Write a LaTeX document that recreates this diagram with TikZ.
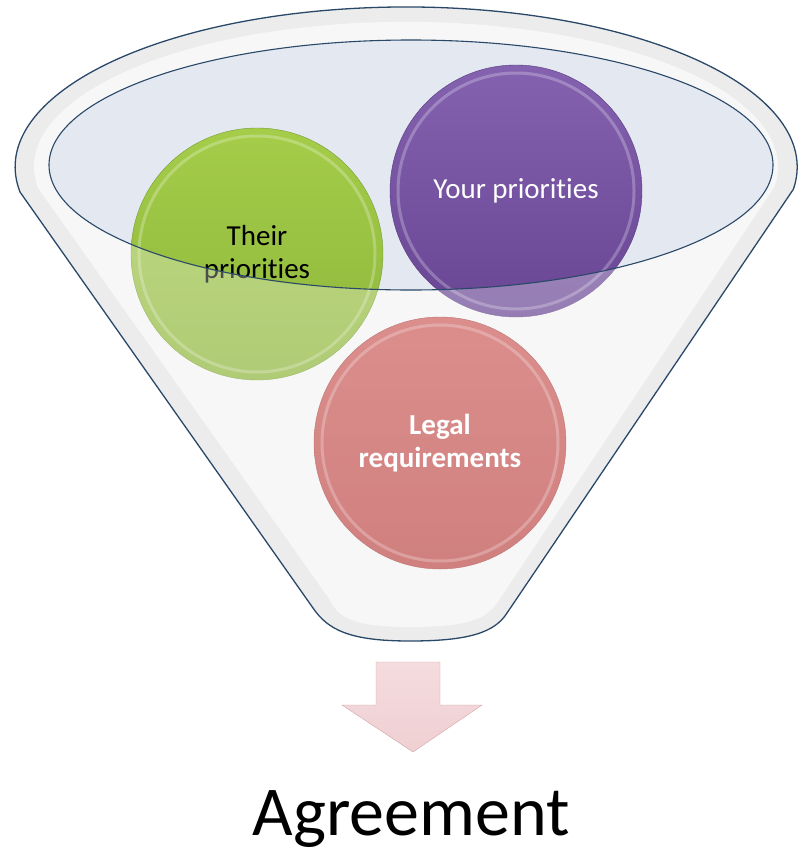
\documentclass[tikz,border=0pt]{standalone}
\usepackage{fontspec}
\setmainfont{Carlito}[Ligatures=NoCommon]
\usetikzlibrary{positioning}

\definecolor{rimline}{HTML}{2A4868}
\definecolor{mouth}{HTML}{E3E8F1}
\definecolor{glass}{HTML}{E4E4E4}
\definecolor{greenA}{HTML}{A5CD4A}
\definecolor{greenB}{HTML}{8DB53A}
\definecolor{purpleA}{HTML}{8462B0}
\definecolor{purpleB}{HTML}{684694}
\definecolor{redA}{HTML}{CC5E5B}
\definecolor{redB}{HTML}{BC4A48}
\definecolor{arrowA}{HTML}{F5DCDF}
\definecolor{arrowB}{HTML}{EFCFD2}
\definecolor{arrowline}{HTML}{D0A6A9}

\tikzset{
  ball/.style={circle, minimum size=252pt, inner sep=0pt, align=center,
    font=\fontsize{29}{33}\selectfont},
  bevel/.style={white, opacity=0.25, line width=3pt},
}

\begin{document}
\begin{tikzpicture}[x=1pt,y=-1pt]
  \useasboundingbox (0,0) rectangle (800,854);

  % Corps de l'entonnoir
  \path[fill=glass] (313,608) -- (20,192)
    arc[start angle=171, end angle=368, x radius=391, y radius=160]
    -- (507,613) .. controls (495,632) and (470,641) .. (410,641)
    .. controls (350,641) and (328,630) .. (313,608) -- cycle;
  \path[fill=white, opacity=0.6] (330,600) -- (38,188)
    arc[start angle=171.6, end angle=368, x radius=372, y radius=145]
    -- (497,603) .. controls (485,620) and (465,627) .. (410,627)
    .. controls (355,627) and (338,618) .. (330,600) -- cycle;

  % Ouverture
  \fill[mouth] (411,165) ellipse[x radius=362, y radius=125];

  % Boules
  \node[ball, top color=greenA, bottom color=greenB, draw=greenB!85!black] (their) at (257,254) {Their\\priorities};
  \node[ball, top color=purpleA, bottom color=purpleB, draw=purpleB!85!black, text=white] (your) at (516,191) {Your priorities};
  \node[ball, top color=redA, bottom color=redB, draw=redB!85!black, text=white, font=\fontsize{29}{33}\selectfont\bfseries] (legal) at (440,443) {Legal\\requirements};
  \draw[bevel] (their) circle[radius=118];
  \draw[bevel] (your) circle[radius=118];
  \draw[bevel] (legal) circle[radius=118];

  % Face avant
  \path[fill=white, opacity=0.3, even odd rule] (313,608) -- (20,192)
    arc[start angle=171, end angle=368, x radius=391, y radius=160]
    -- (507,613) .. controls (495,632) and (470,641) .. (410,641)
    .. controls (350,641) and (328,630) .. (313,608) -- cycle
    (411,165) ellipse[x radius=362, y radius=125];

  % Contours
  \draw[rimline, line width=1.1pt] (411,165) ellipse[x radius=362, y radius=125];
  \draw[rimline, line width=1.3pt] (313,608) -- (20,192)
    arc[start angle=171, end angle=368, x radius=391, y radius=160]
    -- (507,613) .. controls (495,632) and (470,641) .. (410,641)
    .. controls (350,641) and (328,630) .. (313,608) -- cycle;

  % Fleche
  \path[draw=arrowline, top color=arrowA, bottom color=arrowB] (376,662) -- (440,662) -- (440,705) -- (482,705)
    -- (413,752) -- (342,705) -- (376,705) -- cycle;

  % Resultat
  \node[font=\fontsize{70}{76}\selectfont, anchor=base] (agree) at (411,835) {Agreement};
\end{tikzpicture}
\end{document}
